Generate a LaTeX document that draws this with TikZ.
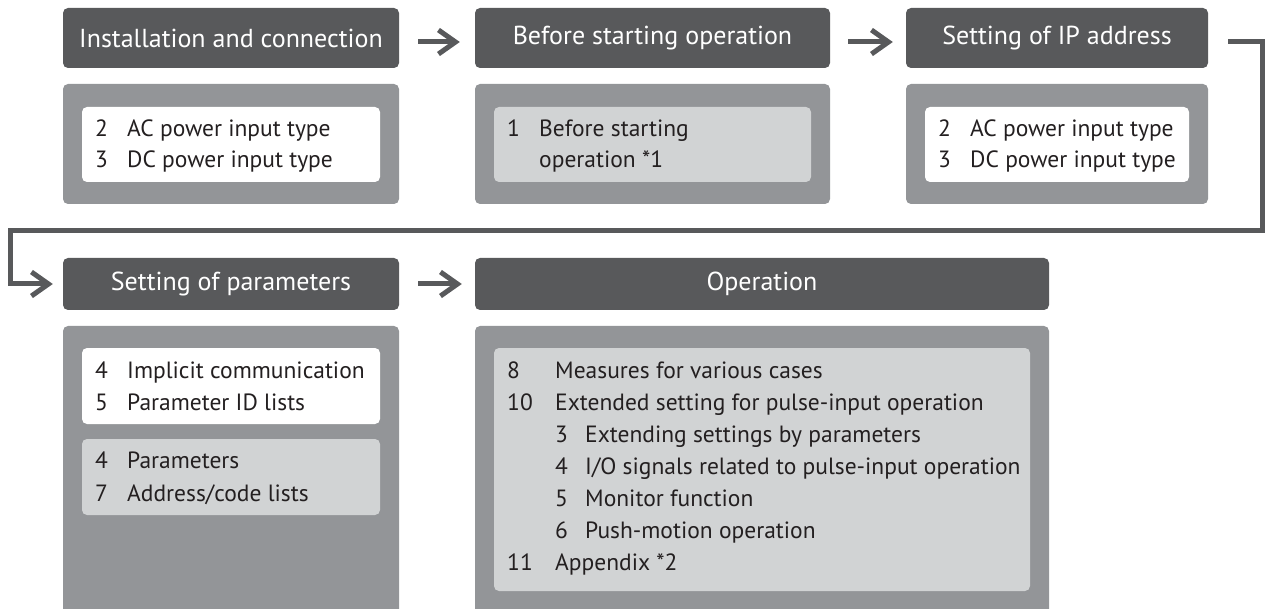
\documentclass[tikz,border=0pt]{standalone}
\usepackage{fontspec}
\setmainfont{PT Sans}
\usetikzlibrary{positioning,calc,arrows.meta}

\definecolor{hdgray}{HTML}{58595B}
\definecolor{pnlgray}{HTML}{939598}
\definecolor{lightgray}{HTML}{D1D3D4}
\definecolor{ink}{HTML}{231F20}

\newcommand{\nb}[2][32pt]{\makebox[#1][l]{#2}}

\tikzset{
	header/.style={fill=hdgray, text=white, rounded corners=5pt, inner sep=0pt,
		font=\fontsize{26pt}{30pt}\selectfont},
	panel/.style={fill=pnlgray, rounded corners=5pt, inner sep=0pt},
	listbox/.style={rounded corners=5pt, inner sep=0pt},
	item/.style={anchor=base west, inner sep=0pt, text=ink,
		font=\fontsize{23.5pt}{32pt}\selectfont},
	flow/.style={line width=5pt, draw=hdgray, line join=miter,
		-{Straight Barb[length=17pt, width=24pt]}}
}

\begin{document}
\begin{tikzpicture}[x=1pt, y=-1pt]
	\useasboundingbox (0,0) rectangle (1268,609);
	\clip (0,0) rectangle (1268,609);

	\begin{scope}
		\node[header, minimum width=336pt, minimum height=60pt] (inst) at (231,38) {Installation and connection};
		\node[header, minimum width=355pt, minimum height=60pt] (before) at (652.5,38) {Before starting operation};
		\node[header, minimum width=302pt, minimum height=60pt] (ipaddr) at (1057,38) {Setting of IP address};
		\node[header, minimum width=336pt, minimum height=52pt] (param) at (231,284) {Setting of parameters};
		\node[header, minimum width=574pt, minimum height=52pt] (oper) at (762,284) {Operation};

		\node[panel, minimum width=336pt, minimum height=120pt] (instbody) at (231,144) {};
		\node[panel, minimum width=355pt, minimum height=120pt] (beforebody) at (652.5,144) {};
		\node[panel, minimum width=302pt, minimum height=120pt] (ipbody) at (1057,144) {};
		\node[panel, minimum width=336pt, minimum height=314pt] (parambody) at (231,483) {};
		\node[panel, minimum width=574pt, minimum height=314pt] (operbody) at (762,483) {};

		\node[listbox, fill=white, minimum width=298pt, minimum height=75pt] (instlist) at (231,144.5) {};
		\node[listbox, fill=lightgray, minimum width=317pt, minimum height=75pt] (beforelist) at (652.5,144.5) {};
		\node[listbox, fill=white, minimum width=264pt, minimum height=75pt] (iplist) at (1057,144.5) {};
		\node[listbox, fill=white, minimum width=298pt, minimum height=76pt] (paramlist) at (231,386) {};
		\node[listbox, fill=lightgray, minimum width=298pt, minimum height=76pt] (reglist) at (231,477) {};
		\node[listbox, fill=lightgray, minimum width=536pt, minimum height=243pt] (operlist) at (762,469.5) {};

		\node[item] (instac) at (95,137) {\nb{2}AC power input type};
		\node[item] (instdc) at (95,168) {\nb{3}DC power input type};

		\node[item] (beforea) at (507,137) {\nb{1}Before starting};
		\node[item] (beforeb) at (539,168) {operation *1};

		\node[item] (ipac) at (938,137) {\nb{2}AC power input type};
		\node[item] (ipdc) at (938,168) {\nb{3}DC power input type};

		\node[item] (implicit) at (95,378) {\nb{4}Implicit communication};
		\node[item] (paramid) at (95,410) {\nb{5}Parameter ID lists};
		\node[item] (params) at (95,468) {\nb{4}Parameters};
		\node[item] (addr) at (95,501) {\nb{7}Address/code lists};

		\node[item] (measures) at (507,378) {\nb[48pt]{8}Measures for various cases};
		\node[item] (extended) at (507,410) {\nb[48pt]{10}Extended setting for pulse-input operation};
		\node[item] (extparam) at (555,442) {\nb[30pt]{3}Extending settings by parameters};
		\node[item] (iosig) at (555,474) {\nb[30pt]{4}I/O signals related to pulse-input operation};
		\node[item] (monitor) at (555,506) {\nb[30pt]{5}Monitor function};
		\node[item] (push) at (555,538) {\nb[30pt]{6}Push-motion operation};
		\node[item] (appendix) at (507,570) {\nb[48pt]{11}Appendix *2};

		\coordinate (turnR) at (1262.5,231);
		\coordinate (turnL) at (10,231);

		\draw[flow, shorten <=19pt, shorten >=15pt] ([yshift=-4pt]inst.east) -- ([yshift=-4pt]before.west);
		\draw[flow, shorten <=18pt, shorten >=13pt] ([yshift=-4pt]before.east) -- ([yshift=-4pt]ipaddr.west);
		\draw[flow, shorten >=10pt] ([xshift=20pt, yshift=-4pt]ipaddr.east) -| (turnR) -- (turnL) |- (param);
		\draw[flow, shorten <=19pt, shorten >=13pt] (param) -- (oper);
	\end{scope}
\end{tikzpicture}
\end{document}
